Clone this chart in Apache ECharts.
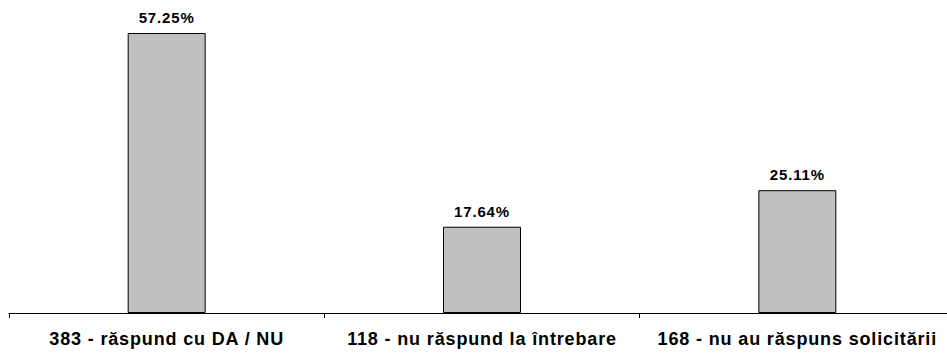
<!DOCTYPE html>
<html>
<head>
<meta charset="utf-8">
<script src="https://cdn.jsdelivr.net/npm/echarts@6/dist/echarts.min.js"></script>
<style>
  html, body { margin: 0; padding: 0; background: #fff; }
  #chart { width: 947px; height: 356px; }
  #chart svg text { letter-spacing: 0.85px; }
</style>
</head>
<body>
<div id="chart"></div>
<script>
// Response categories and their shares (%)
const categories = [
  '383 - răspund cu DA / NU',
  '118 - nu răspund la întrebare',
  '168 - nu au răspuns solicitării'
];
const shares = [57.25, 17.64, 25.11];

const chart = echarts.init(document.getElementById('chart'), null, { renderer: 'svg' });

chart.setOption({
  animation: false,
  backgroundColor: '#ffffff',
  grid: {
    left: 9, top: 0, right: -8, bottom: 43,
    containLabel: false,
    outerBoundsMode: 'none'
  },
  xAxis: {
    type: 'category',
    data: categories,
    axisLine: { lineStyle: { color: '#000', width: 1 } },
    axisTick: { show: true, length: 5, lineStyle: { color: '#000' } },
    axisLabel: {
      interval: 0,
      margin: 17,
      color: '#000',
      fontFamily: 'Liberation Sans, Arial, sans-serif',
      fontWeight: 'bold',
      fontSize: 18
    }
  },
  yAxis: {
    type: 'value',
    min: 0,
    max: 64,
    show: false,
    splitLine: { show: false }
  },
  series: [{
    type: 'bar',
    data: shares,
    barWidth: 78,
    itemStyle: { color: '#c0c0c0', borderColor: '#000', borderWidth: 1 },
    label: {
      show: true,
      position: 'top',
      distance: 8,
      color: '#000',
      fontFamily: 'Liberation Sans, Arial, sans-serif',
      fontWeight: 'bold',
      fontSize: 15,
      formatter: p => p.value.toFixed(2) + '%'
    }
  }]
});
</script>
</body>
</html>
